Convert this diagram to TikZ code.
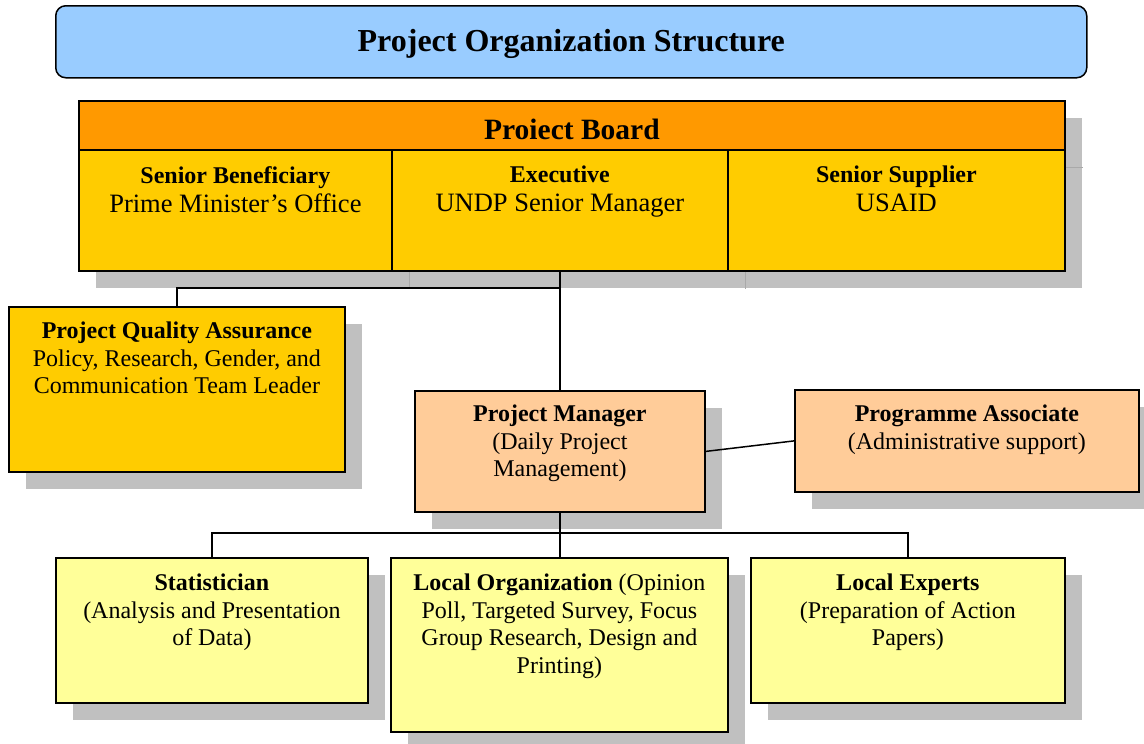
\documentclass[tikz,border=0pt]{standalone}
\usepackage{fontspec}
\setmainfont{Liberation Serif}
\usetikzlibrary{shadows}
\definecolor{titleblue}{HTML}{99CCFF}
\definecolor{boardorange}{HTML}{FF9900}
\definecolor{boardgold}{HTML}{FFCC00}
\definecolor{managerpeach}{HTML}{FFCC99}
\definecolor{teamyellow}{HTML}{FFFF99}
\definecolor{shadowgray}{HTML}{C0C0C0}
\definecolor{seamgray}{HTML}{A9A9A9}

\begin{document}
\begin{tikzpicture}[x=1pt, y=-1pt,
    unit/.style={draw, line width=1.8pt, anchor=north west, inner sep=0,
      drop shadow={shadow xshift=17pt, shadow yshift=-17pt, fill=shadowgray, opacity=1}},
    txt/.style={anchor=north, yshift=-17pt, align=center, inner sep=0,
      font=\fontsize{24}{27.5}\selectfont},
    link/.style={line width=1.5pt}]
  \useasboundingbox (0,0) rectangle (1144,744);
  % title
  \node[draw, line width=1.5pt, rounded corners=10pt, fill=titleblue, anchor=north west,
    minimum width=1031pt, minimum height=72pt,
    label={[yshift=-2pt, font=\fontsize{32}{36}\selectfont\bfseries]center:{Project Organization Structure}}] (T) at (55,5) {};
  % board
  \node[unit, fill=boardorange, minimum width=986pt, minimum height=49pt,
    label={[yshift=-4pt, font=\fontsize{29.5}{33}\selectfont\bfseries]center:{Proiect Board}}] (PB) at (78,100) {};
  \node[unit, fill=boardgold, minimum width=313pt, minimum height=121pt,
    label={[txt]north:{\textbf{Senior Beneficiary}\\[1.5pt] \fontsize{26.5}{29}\selectfont Prime Minister's Office}}] (SB) at (78,149) {};
  \node[unit, fill=boardgold, minimum width=336pt, minimum height=121pt,
    label={[txt]north:{\textbf{Executive}\\[1.5pt] \fontsize{26.5}{29}\selectfont UNDP Senior Manager}}] (EX) at (391,149) {};
  \node[unit, fill=boardgold, minimum width=337pt, minimum height=121pt,
    label={[txt]north:{\textbf{Senior Supplier}\\[1.5pt] \fontsize{26.5}{29}\selectfont USAID}}] (SS) at (727,149) {};
  \draw[seamgray, line width=1pt] ([xshift=17pt]SB.south east) -- ++(0,17);
  \draw[seamgray, line width=1pt] ([xshift=17pt]EX.south east) -- ++(0,17);
  \draw[seamgray, line width=1pt] ([yshift=-17pt]PB.south east) -- ++(17,0);
  % assurance and management
  \node[unit, fill=boardgold, minimum width=336pt, minimum height=165pt,
    label={[txt, yshift=1pt]north:{\textbf{Project Quality Assurance}\\ Policy, Research, Gender, and\\ Communication Team Leader}}] (QA) at (8,306) {};
  \node[unit, fill=managerpeach, minimum width=290pt, minimum height=121pt,
    label={[txt, yshift=2pt]north:{\textbf{Project Manager}\\ (Daily Project\\ Management)}}] (PM) at (414,390) {};
  \node[unit, fill=managerpeach, minimum width=344pt, minimum height=102pt,
    label={[txt, yshift=1pt]north:{\textbf{Programme Associate}\\ (Administrative support)}}] (PA) at (794,389) {};
  % team
  \node[unit, fill=teamyellow, minimum width=312pt, minimum height=145pt,
    label={[txt]north:{\textbf{Statistician}\\ (Analysis and Presentation\\ of Data)}}] (ST) at (55,557) {};
  \node[unit, fill=teamyellow, minimum width=337pt, minimum height=174pt,
    label={[txt]north:{\textbf{Local Organization} (Opinion\\ Poll, Targeted Survey, Focus\\ Group Research, Design and\\ Printing)}}] (LO) at (390,557) {};
  \node[unit, fill=teamyellow, minimum width=314pt, minimum height=145pt,
    label={[txt]north:{\textbf{Local Experts}\\ (Preparation of Action\\ Papers)}}] (LE) at (750,557) {};
  % links
  \draw[link] (EX.south) -- (PM.north);
  \draw[link] (QA.north) -- ++(0,-18) -| (EX.south);
  \draw[link] (PM.east) -- (PA.west);
  \draw[link] (PM.south) -- (PM.south |- LO.north);
  \draw[link] (ST.north) -- ++(0,-24) -| (LE.north);
\end{tikzpicture}
\end{document}
